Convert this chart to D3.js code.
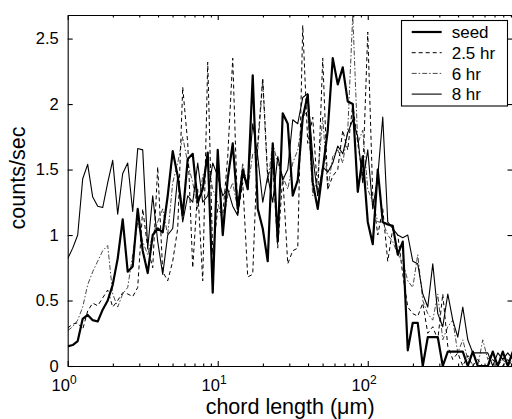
<!DOCTYPE html>
<html>
<head>
<meta charset="utf-8">
<script src="https://cdn.jsdelivr.net/npm/d3@7"></script>
<style>
  body { margin: 0; background: #fff; }
  .axis path, .axis line { stroke: #000; stroke-width: 1.1; }
  .axis text { font-family: "Liberation Sans", Arial, sans-serif; font-size: 16.5px; fill: #000; }
  .title { font-family: "Liberation Sans", Arial, sans-serif; font-size: 21.5px; fill: #000; }
  .legend text { font-family: "Liberation Sans", Arial, sans-serif; font-size: 17px; fill: #000; }
</style>
</head>
<body>
<div id="chart"></div>
<script>
// channel mid points (um), 30 per decade
var chordLength = [
  1.000, 1.080, 1.166, 1.259, 1.359, 1.468, 1.585, 1.711, 1.848, 1.995,
  2.154, 2.326, 2.512, 2.712, 2.929, 3.162, 3.415, 3.687, 3.981, 4.299,
  4.642, 5.012, 5.412, 5.843, 6.310, 6.813, 7.356, 7.943, 8.577, 9.261,
  10.00, 10.80, 11.66, 12.59, 13.59, 14.68, 15.85, 17.11, 18.48, 19.95,
  21.54, 23.26, 25.12, 27.12, 29.29, 31.62, 34.15, 36.87, 39.81, 42.99,
  46.42, 50.12, 54.12, 58.43, 63.10, 68.13, 73.56, 79.43, 85.77, 92.61,
  100.0, 108.0, 116.6, 125.9, 135.9, 146.8, 158.5, 171.1, 184.8, 199.5,
  215.4, 232.6, 251.2, 271.2, 292.9, 316.2, 341.5, 368.7, 398.1, 429.9,
  464.2, 501.2, 541.2, 584.3, 631.0, 681.3, 735.6, 794.3, 857.7, 926.1
];

var seed = [
  0.15, 0.16, 0.19, 0.36, 0.39, 0.35, 0.34, 0.43, 0.50, 0.62,
  0.82, 1.12, 0.72, 0.76, 1.20, 0.88, 0.71, 1.00, 1.05, 1.02,
  1.30, 1.64, 1.45, 1.15, 1.58, 1.62, 1.25, 1.35, 1.63, 0.56,
  1.65, 1.00, 1.43, 1.70, 1.20, 1.50, 1.35, 2.22, 1.20, 1.05,
  0.80, 1.70, 0.95, 1.93, 1.85, 1.30, 1.42, 1.90, 2.07, 1.40,
  1.20, 1.50, 1.80, 2.35, 2.15, 2.28, 2.02, 2.00, 1.33, 1.60,
  1.10, 0.93, 1.50, 1.10, 1.08, 1.07, 0.85, 0.95, 0.12, 0.33,
  0.33, 0.00, 0.22, 0.22, 0.22, 0.00, 0.11, 0.11, 0.11, 0.11,
  0.00, 0.11, 0.00, 0.00, 0.00, 0.11, 0.00, 0.11, 0.00, 0.11
];

var hr25 = [
  0.29, 0.32, 0.33, 0.28, 0.42, 0.48, 0.46, 0.52, 0.58, 0.45,
  0.50, 0.56, 0.55, 0.53, 0.60, 1.20, 0.90, 0.75, 1.52, 0.72,
  0.65, 0.80, 1.05, 2.13, 1.70, 0.75, 1.35, 0.65, 2.32, 0.85,
  1.20, 1.15, 1.60, 2.35, 1.15, 1.40, 0.68, 0.70, 1.70, 2.20,
  1.45, 1.55, 0.90, 1.45, 0.78, 0.88, 0.90, 2.60, 1.70, 1.90,
  1.30, 2.35, 1.35, 1.45, 1.50, 1.80, 1.65, 2.00, 1.70, 1.45,
  2.55, 1.30, 1.00, 1.20, 0.80, 1.05, 1.00, 0.70, 0.45, 0.40,
  0.38, 0.48, 0.25, 0.30, 0.20, 0.55, 0.15, 0.05, 0.10, 0.00,
  0.08, 0.00, 0.05, 0.00, 0.00, 0.05, 0.00, 0.00, 0.05, 0.00
];

var hr6 = [
  0.27, 0.30, 0.35, 0.45, 0.62, 0.72, 0.80, 0.88, 0.92, 0.55,
  0.45, 0.55, 0.60, 0.85, 1.10, 0.95, 0.85, 1.00, 1.10, 1.20,
  1.00, 1.40, 1.55, 1.75, 1.55, 1.40, 1.20, 1.45, 1.55, 1.35,
  1.25, 1.10, 1.30, 1.40, 1.20, 1.55, 1.35, 1.62, 1.65, 2.18,
  1.40, 1.70, 1.55, 1.45, 1.35, 1.55, 1.65, 1.90, 1.95, 1.30,
  1.45, 1.90, 1.35, 1.60, 1.65, 1.55, 1.80, 2.68, 1.70, 1.80,
  1.35, 1.25, 1.10, 1.10, 1.00, 0.95, 0.85, 0.80, 0.65, 0.60,
  0.85, 0.50, 0.40, 0.35, 0.55, 0.20, 0.30, 0.35, 0.10, 0.20,
  0.05, 0.10, 0.00, 0.20, 0.05, 0.10, 0.00, 0.05, 0.00, 0.05
];

var hr8 = [
  0.82, 0.90, 1.00, 1.43, 1.54, 1.29, 1.22, 1.21, 1.40, 1.57,
  1.16, 1.47, 1.55, 1.18, 1.66, 1.65, 0.90, 1.30, 0.95, 0.70,
  1.00, 1.05, 1.45, 1.10, 1.30, 1.25, 1.55, 1.25, 1.30, 1.55,
  1.45, 1.30, 1.35, 1.22, 1.15, 1.45, 1.40, 1.85, 1.60, 1.25,
  1.45, 1.25, 1.60, 1.42, 1.50, 1.88, 1.85, 2.05, 2.08, 1.60,
  1.30, 1.52, 1.48, 1.55, 1.68, 1.62, 1.78, 1.88, 1.75, 1.40,
  1.65, 1.20, 1.45, 1.90, 1.10, 1.05, 1.00, 0.98, 1.00, 0.80,
  0.78, 0.55, 0.45, 0.78, 0.40, 0.30, 0.55, 0.35, 0.22, 0.45,
  0.20, 0.10, 0.10, 0.10, 0.10, 0.00, 0.10, 0.05, 0.10, 0.05
];

var seriesNames = ["seed", "2.5 hr", "6 hr", "8 hr"];
var xTickValues = [1, 10, 100];
var yTickValues = [0, 0.5, 1, 1.5, 2, 2.5];

function init() {

    var w = 512;
    var h = 419;
    var left = 67.7, right = 512.5, top = 15, bottom = 366;

    var xScale = d3.scaleLog()
      .domain([1, 922])
      .range([left, right]);

    var yScale = d3.scaleLinear()
      .domain([0, 2.68])
      .range([bottom, top]);

    var svg = d3.select("#chart")
      .append("svg")
      .attr("width", w)
      .attr("height", h);

    svg.append("clipPath")
      .attr("id", "plotclip")
      .append("rect")
      .attr("x", left)
      .attr("y", top - 2)
      .attr("width", right - left)
      .attr("height", bottom - top + 2);

    // line styles: seed thick, 2.5 hr dashed, 6 hr dash-dot, 8 hr thin
    var styles = {
      "seed":   { data: seed, width: 2.2, dash: null, color: "#000" },
      "2.5 hr": { data: hr25, width: 1.0, dash: "4,3", color: "#000" },
      "6 hr":   { data: hr6,  width: 0.9, dash: "5,2,1.5,2", color: "#333" },
      "8 hr":   { data: hr8,  width: 1.1, dash: null, color: "#000" }
    };

    var line = d3.line()
      .x(function(d) { return xScale(d[0]); })
      .y(function(d) { return yScale(d[1]); });

    var drawOrder = ["6 hr", "2.5 hr", "8 hr", "seed"];
    drawOrder.forEach(function(name) {
      var s = styles[name];
      svg.append("path")
        .datum(d3.zip(chordLength, s.data))
        .attr("clip-path", "url(#plotclip)")
        .attr("fill", "none")
        .attr("stroke", s.color)
        .attr("stroke-width", s.width)
        .attr("stroke-dasharray", s.dash)
        .attr("stroke-linejoin", "round")
        .attr("d", line);
    });

    // minor log ticks (1..9 per decade) from the scale
    var minorTicks = xScale.ticks().filter(function(t) { return xTickValues.indexOf(t) < 0; });

    var xAxis = d3.axisBottom(xScale)
      .tickValues(xTickValues)
      .tickSizeInner(-5)
      .tickSizeOuter(0)
      .tickPadding(13)
      .tickFormat(function() { return "10"; });

    var gx = svg.append("g")
      .attr("class", "axis")
      .attr("transform", "translate(0," + bottom + ")")
      .call(xAxis);

    gx.selectAll(".tick text")
      .attr("dx", "-0.25em")
      .each(function(d) {
        d3.select(this).append("tspan")
          .attr("dy", "-0.55em")
          .attr("font-size", "12px")
          .text(Math.round(Math.log10(d)));
      });

    svg.append("g")
      .attr("class", "axis")
      .attr("transform", "translate(0," + bottom + ")")
      .call(d3.axisBottom(xScale).tickValues(minorTicks).tickSizeInner(-2.5).tickSizeOuter(0).tickFormat(""));

    svg.append("g")
      .attr("class", "axis")
      .attr("transform", "translate(0," + top + ")")
      .call(d3.axisTop(xScale).tickValues(xTickValues).tickSizeInner(-5).tickSizeOuter(0).tickFormat(""));

    svg.append("g")
      .attr("class", "axis")
      .attr("transform", "translate(0," + top + ")")
      .call(d3.axisTop(xScale).tickValues(minorTicks).tickSizeInner(-2.5).tickSizeOuter(0).tickFormat(""));

    svg.append("g")
      .attr("class", "axis")
      .attr("transform", "translate(" + left + ",0)")
      .call(d3.axisLeft(yScale).tickValues(yTickValues).tickSizeInner(-5).tickSizeOuter(0).tickPadding(9)
        .tickFormat(function(d) { return String(d); }));

    svg.append("g")
      .attr("class", "axis")
      .attr("transform", "translate(" + right + ",0)")
      .call(d3.axisRight(yScale).tickValues(yTickValues).tickSizeInner(-5).tickSizeOuter(0).tickFormat(""));

    // axis titles
    svg.append("text")
      .attr("class", "title")
      .attr("x", (left + right) / 2)
      .attr("y", 414)
      .attr("text-anchor", "middle")
      .text("chord length (\u03bcm)");

    svg.append("text")
      .attr("class", "title")
      .attr("transform", "translate(25,178) rotate(-90)")
      .attr("text-anchor", "middle")
      .text("counts/sec");

    // legend
    var legend = svg.append("g").attr("class", "legend");
    legend.append("rect")
      .attr("x", 401.5)
      .attr("y", 20.5)
      .attr("width", 106)
      .attr("height", 85.5)
      .attr("fill", "#fff")
      .attr("stroke", "#000")
      .attr("stroke-width", 1.1);

    seriesNames.forEach(function(name, i) {
      var s = styles[name];
      var ly = 32 + i * 20.7;
      legend.append("line")
        .attr("x1", 411.7)
        .attr("x2", 441.7)
        .attr("y1", ly)
        .attr("y2", ly)
        .attr("stroke", s.color)
        .attr("stroke-width", s.width)
        .attr("stroke-dasharray", s.dash);
      legend.append("text")
        .attr("x", 451.7)
        .attr("y", ly)
        .attr("dy", "0.36em")
        .text(name);
    });
}

window.onload = init;
</script>
</body>
</html>
